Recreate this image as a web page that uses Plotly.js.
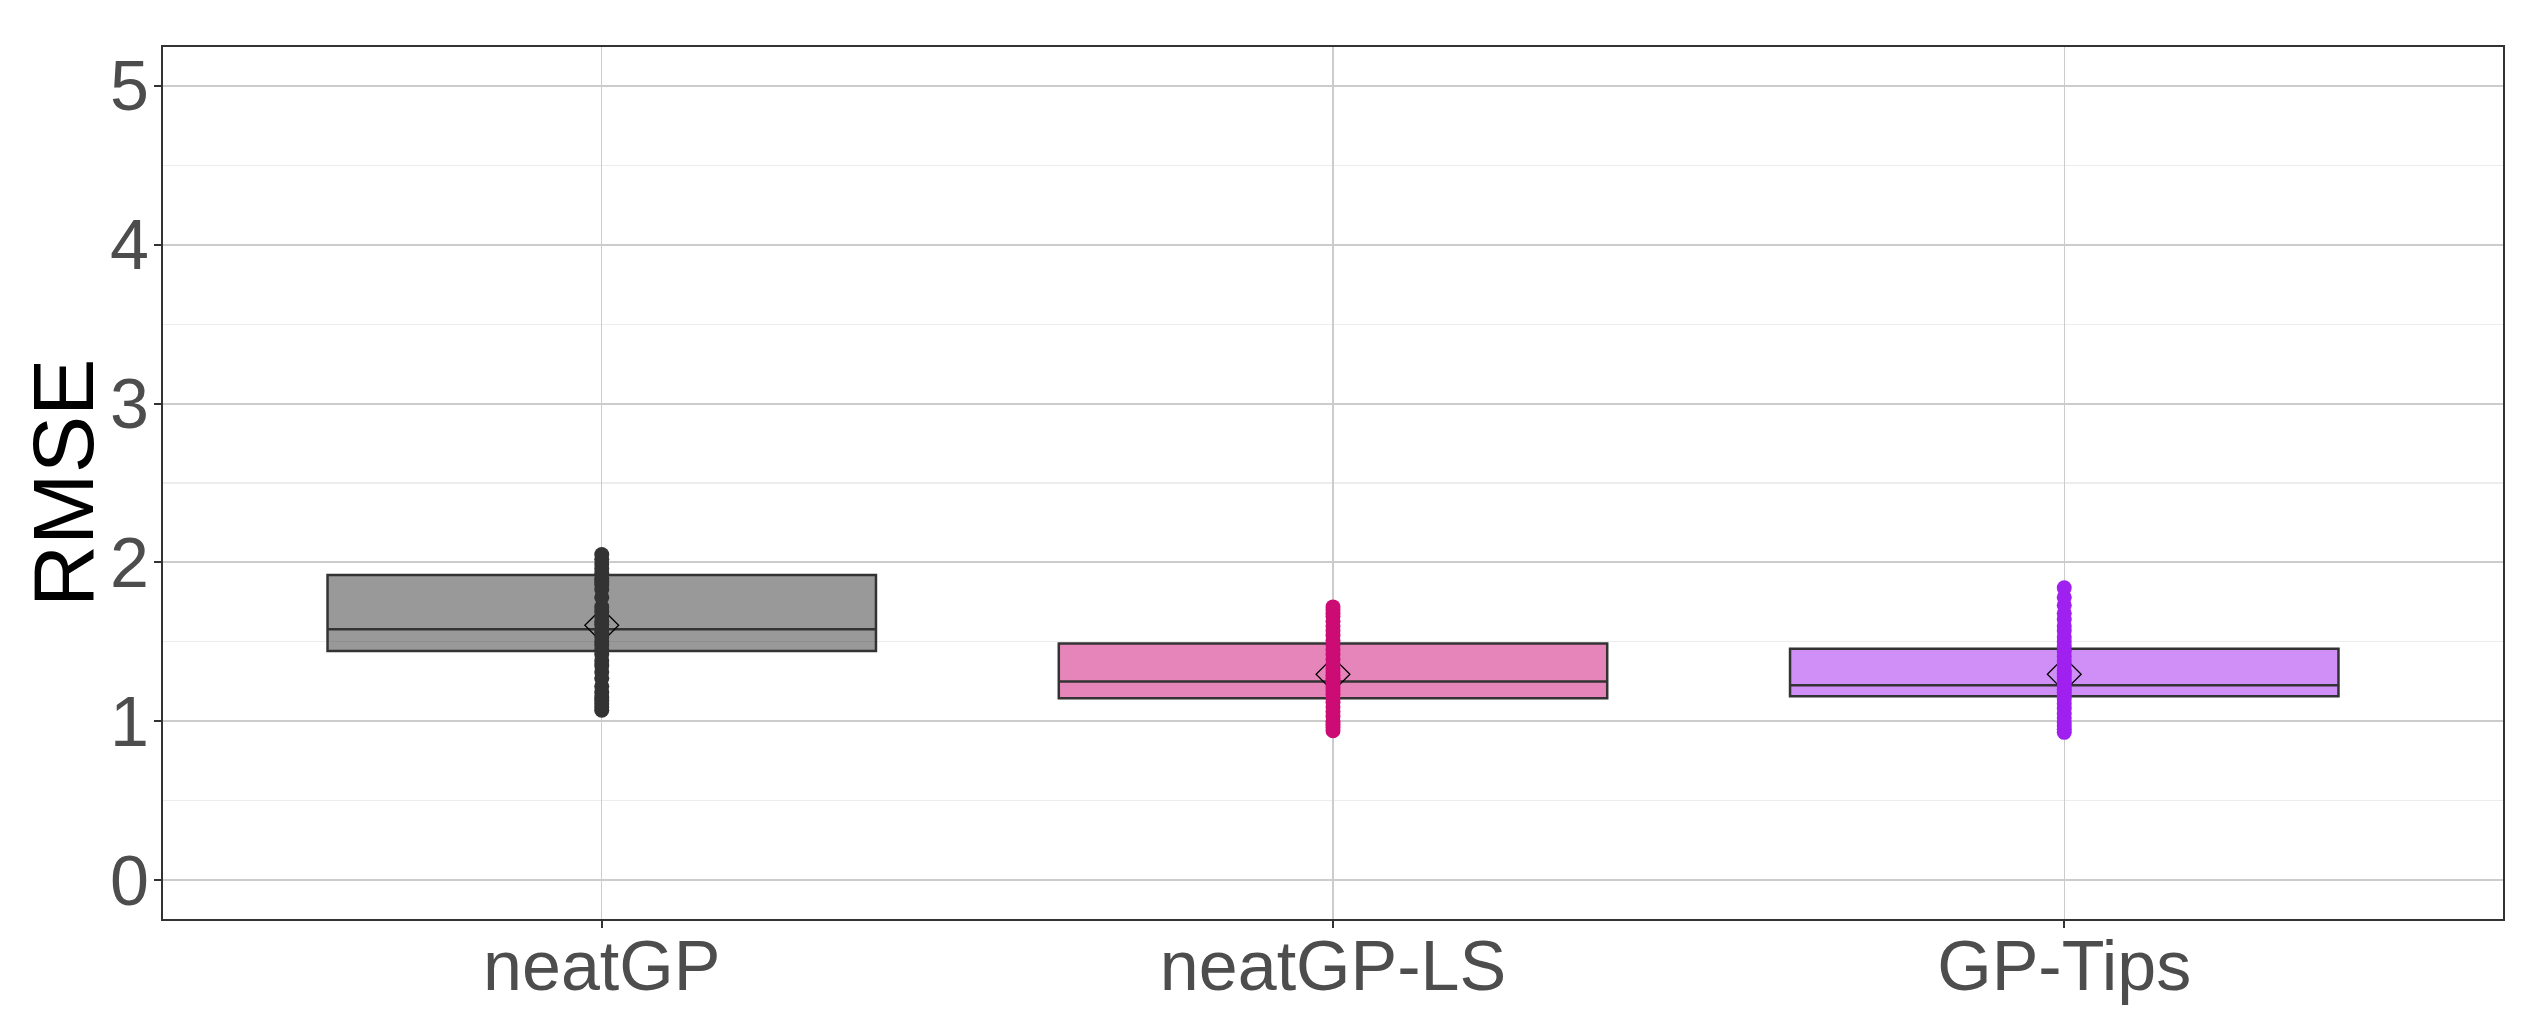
<!DOCTYPE html>
<html>
<head>
<meta charset="utf-8">
<script src="https://cdn.plot.ly/plotly-3.0.1.min.js"></script>
<style>html,body{margin:0;padding:0;background:#fff;}#chart{width:2548px;height:1028px;}</style>
</head>
<body>
<div id="chart"></div>
<script>
// Categories
var categories = ["neatGP", "neatGP-LS", "GP-Tips"];

// Box statistics
var q1Values     = [1.442, 1.145, 1.157];
var medianValues = [1.579, 1.250, 1.226];
var q3Values     = [1.920, 1.489, 1.457];
var meanValues   = [1.604, 1.296, 1.296];

// Individual run values
var neatGPPoints = [1.07, 1.09, 1.11, 1.13, 1.15, 1.18, 1.22, 1.27, 1.31, 1.35, 1.38, 1.42, 1.45, 1.48, 1.50, 1.53,
                    1.56, 1.58, 1.61, 1.63, 1.66, 1.69, 1.72, 1.78, 1.83, 1.86, 1.88, 1.90, 1.93, 1.96, 1.99, 2.02, 2.05];
var neatGPLSPoints = [0.94, 0.96, 0.98, 1.00, 1.03, 1.06, 1.09, 1.12, 1.14, 1.17, 1.19, 1.21, 1.23, 1.25, 1.27, 1.29,
                      1.31, 1.33, 1.36, 1.39, 1.42, 1.45, 1.48, 1.51, 1.54, 1.57, 1.60, 1.63, 1.66, 1.68, 1.70, 1.72];
var gpTipsPoints = [0.93, 0.95, 0.97, 0.99, 1.02, 1.05, 1.08, 1.11, 1.14, 1.16, 1.18, 1.20, 1.22, 1.24, 1.26, 1.28,
                    1.30, 1.32, 1.35, 1.38, 1.41, 1.44, 1.47, 1.50, 1.53, 1.57, 1.60, 1.64, 1.68, 1.73, 1.78, 1.84];

var pointSets = [neatGPPoints, neatGPLSPoints, gpTipsPoints];
var pointColors = ["#333333", "#CC0B74", "#A020F0"];
var fillColors = ["rgba(51,51,51,0.5)", "rgba(204,11,116,0.5)", "rgba(160,32,240,0.5)"];

var fontFam = "Liberation Sans, Arial, sans-serif";
var traces = [];
// boxes
for (var i = 0; i < categories.length; i++) {
  var pts = pointSets[i];
  traces.push({
    type: "box",
    x: [categories[i]],
    q1: [q1Values[i]],
    median: [medianValues[i]],
    q3: [q3Values[i]],
    lowerfence: [Math.min.apply(null, pts)],
    upperfence: [Math.max.apply(null, pts)],
    width: 0.75,
    whiskerwidth: 0,
    fillcolor: fillColors[i],
    line: {color: "#333333", width: 2.5},
    boxpoints: false,
    hoverinfo: "skip",
    showlegend: false
  });
}
// mean diamonds
for (var j = 0; j < categories.length; j++) {
  traces.push({
    type: "scatter",
    mode: "markers",
    x: [categories[j]],
    y: [meanValues[j]],
    marker: {symbol: "diamond-open", size: 26, color: "#000000", line: {width: 1.3, color: "#000000"}},
    showlegend: false,
    hoverinfo: "skip"
  });
}
// points
for (var k = 0; k < categories.length; k++) {
  var xs = pointSets[k].map(function () { return categories[k]; });
  traces.push({
    type: "scatter",
    mode: "markers",
    x: xs,
    y: pointSets[k],
    marker: {symbol: "circle", size: 15, color: pointColors[k], line: {width: 0}},
    showlegend: false,
    hoverinfo: "skip"
  });
}

var layout = {
  width: 2548,
  height: 1028,
  margin: {l: 163, r: 45, t: 47, b: 109, pad: 0},
  paper_bgcolor: "#ffffff",
  plot_bgcolor: "#ffffff",
  font: {family: fontFam, color: "#4d4d4d"},
  boxmode: "overlay",
  xaxis: {
    type: "category",
    categoryorder: "array",
    categoryarray: categories,
    range: [-0.6, 2.6],
    showgrid: true,
    gridcolor: "#cccccc",
    gridwidth: 1.3,
    zeroline: false,
    showline: true,
    mirror: true,
    linecolor: "#333333",
    linewidth: 2,
    ticks: "outside",
    ticklen: 7,
    tickwidth: 2,
    tickcolor: "#333333",
    ticklabelstandoff: -22,
    tickfont: {size: 70, color: "#4d4d4d", family: fontFam}
  },
  yaxis: {
    range: [-0.245, 5.245],
    tickvals: [0, 1, 2, 3, 4, 5],
    ticktext: ["0", "1", "2", "3", "4", "5"],
    showgrid: true,
    gridcolor: "#cccccc",
    gridwidth: 2,
    minor: {tickvals: [0.5, 1.5, 2.5, 3.5, 4.5], showgrid: true, gridcolor: "#ececec", gridwidth: 1.2, ticks: ""},
    zeroline: false,
    showline: true,
    mirror: true,
    linecolor: "#333333",
    linewidth: 2,
    ticks: "outside",
    ticklen: 7,
    tickwidth: 2,
    tickcolor: "#333333",
    ticklabelstandoff: -9,
    tickfont: {size: 70, color: "#4d4d4d", family: fontFam}
  },
  annotations: [{
    text: "RMSE",
    xref: "paper", yref: "paper",
    x: -100 / 2340, y: 0.5,
    xanchor: "center", yanchor: "middle",
    textangle: -90,
    showarrow: false,
    font: {size: 86, color: "#000000", family: fontFam}
  }]
};

Plotly.newPlot("chart", traces, layout, {staticPlot: true, displayModeBar: false});
</script>
</body>
</html>
